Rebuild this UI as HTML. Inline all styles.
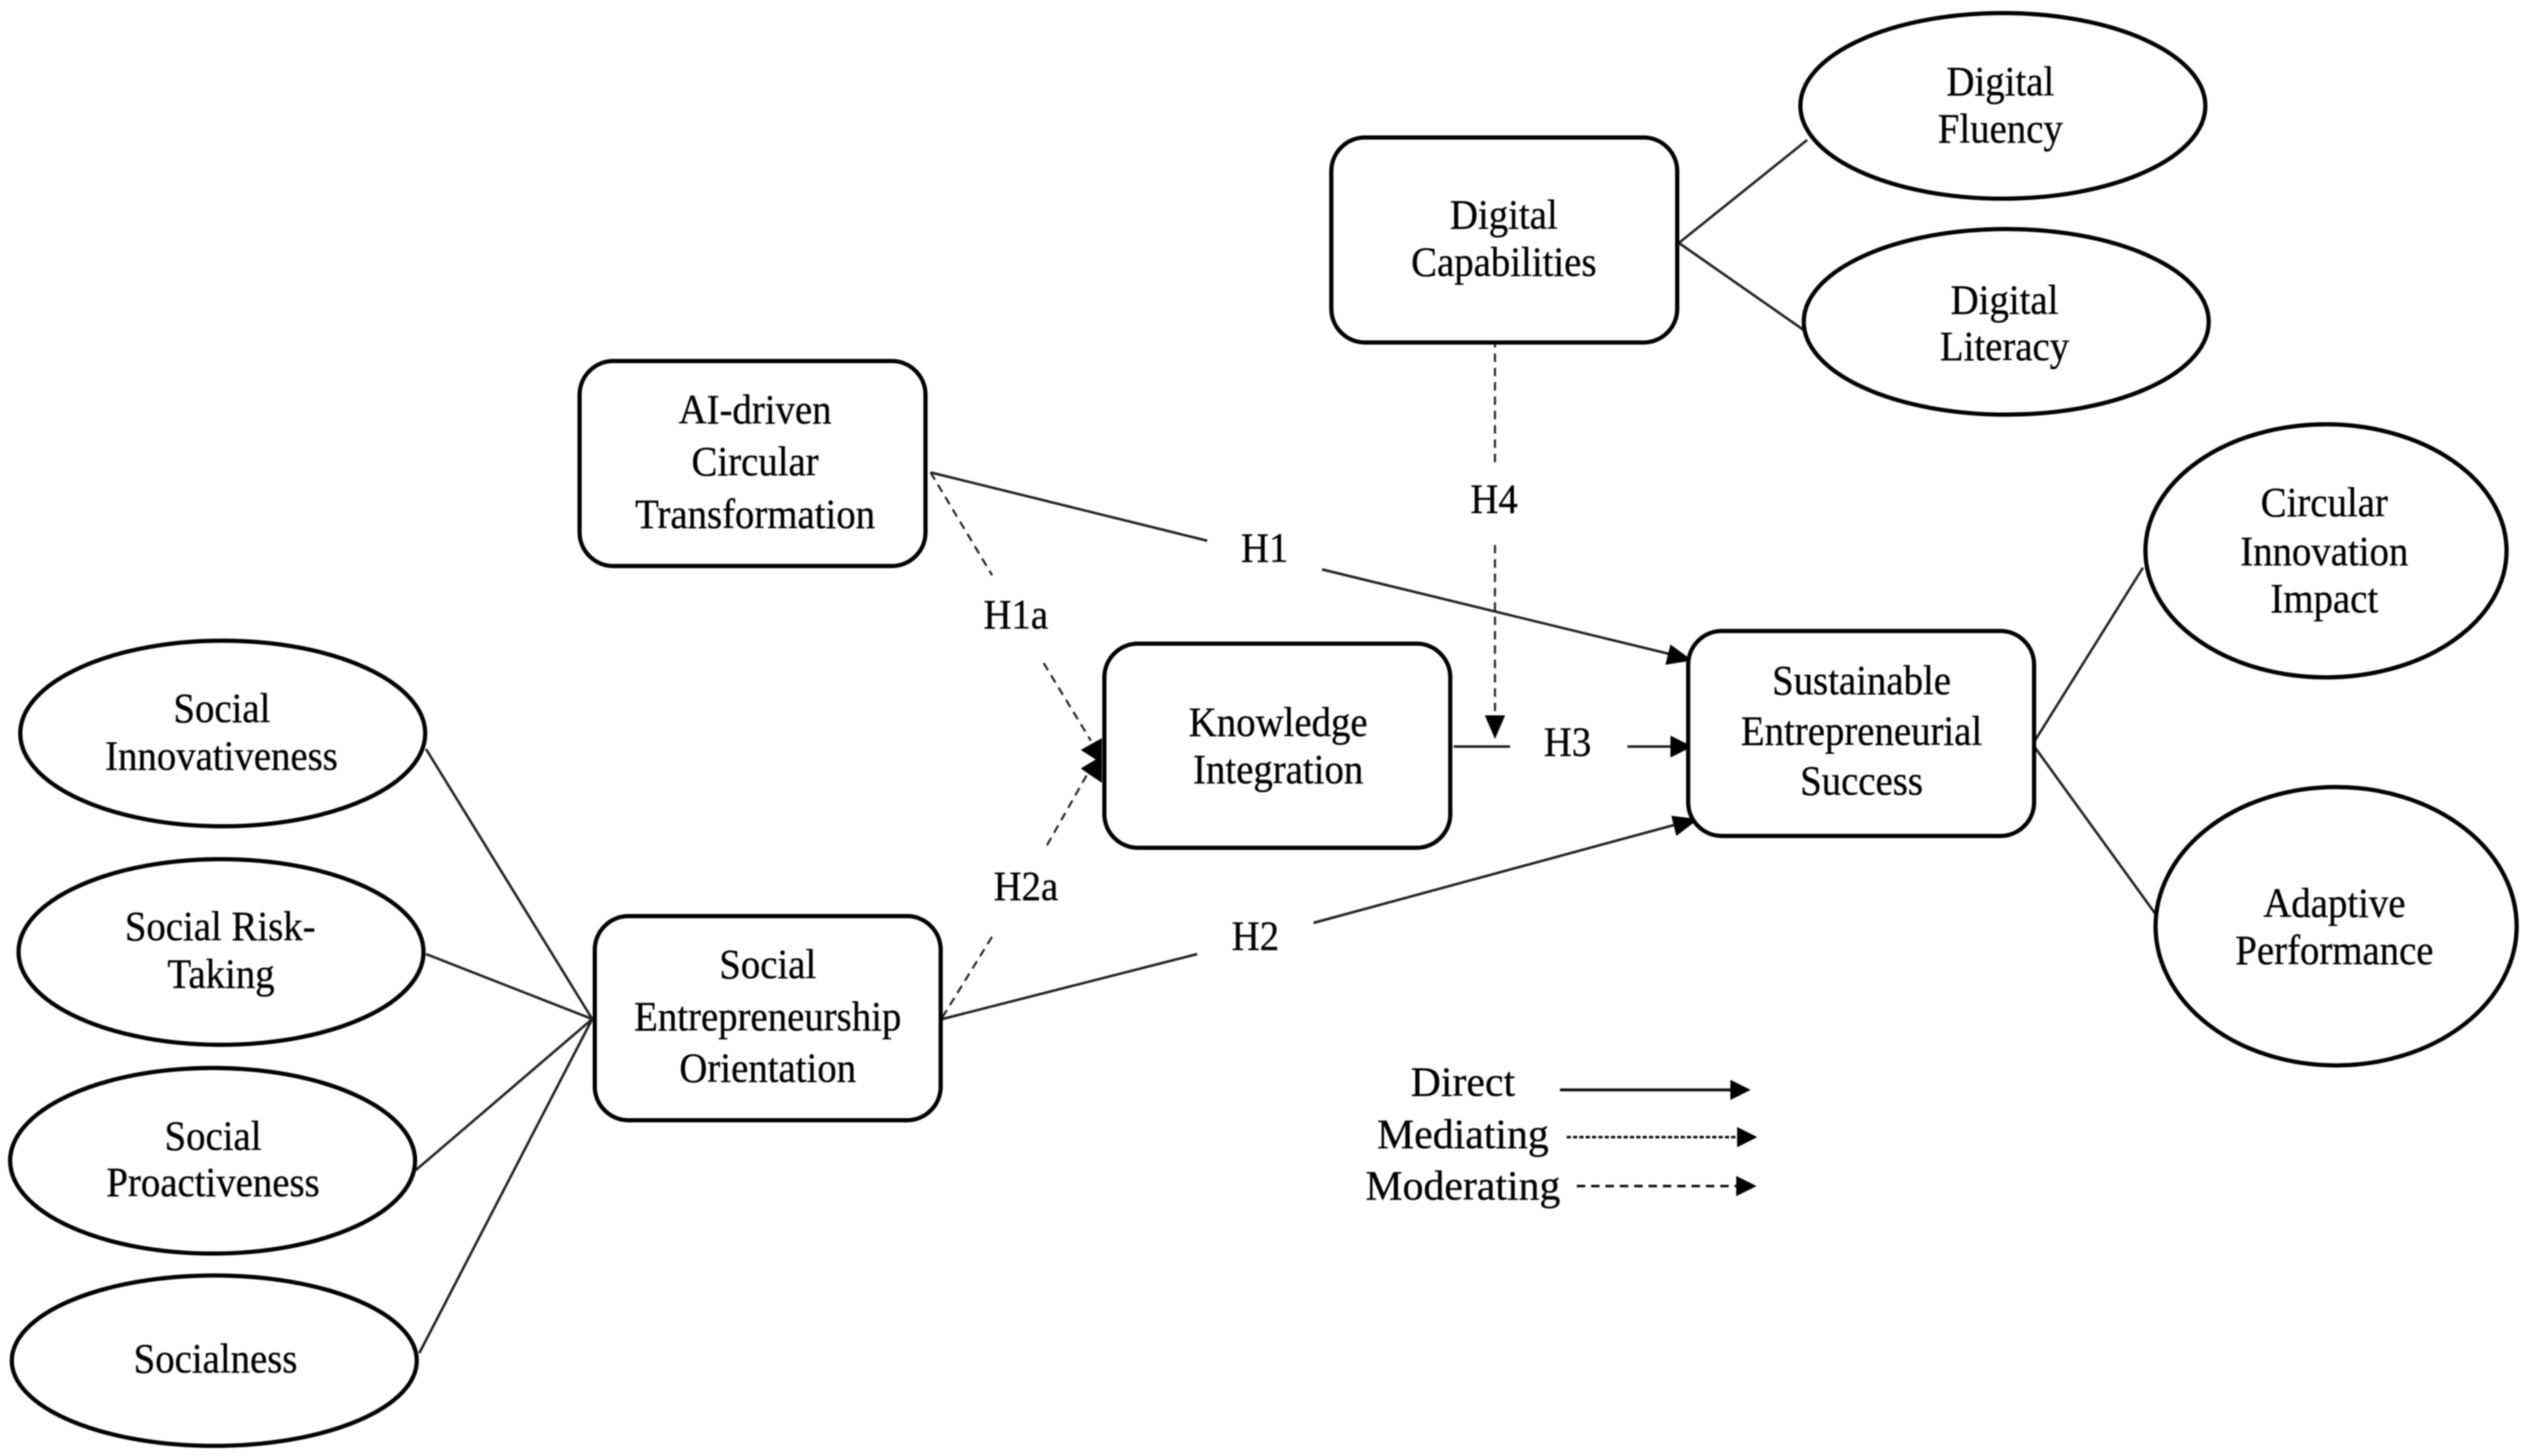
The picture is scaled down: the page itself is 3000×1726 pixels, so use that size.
<!DOCTYPE html>
<html lang="en">
<head>
<meta charset="utf-8">
<title>Conceptual model</title>
<style>
html,body{margin:0;padding:0;background:#fff;width:3000px;height:1726px;overflow:hidden}
svg{display:block;filter:blur(.8px)}
text{font-family:"Liberation Serif",serif;font-size:46px;fill:#000;stroke:#000;stroke-width:.35;text-anchor:middle}
.leg{font-size:49.5px}
.n{fill:#fff;stroke:#000;stroke-width:5}
.l{fill:none;stroke:#222;stroke-width:3}
.d{fill:none;stroke:#222;stroke-width:2.5;stroke-dasharray:10 7}
</style>
</head>
<body>
<svg xmlns="http://www.w3.org/2000/svg" width="3000" height="1726" viewBox="0 0 3000 1726">
<rect width="3000" height="1726" fill="#fff"/>

<!-- connectors -->
<path class="l" d="M505 888L702 1208M505 1131L702 1208M493 1387L702 1208M497 1604L702 1208"/>
<path class="l" d="M1990 288L2142 166M1990 288L2139 392"/>
<path class="l" d="M2412 878L2540 673M2412 886L2556 1085"/>
<path class="l" d="M1103 560L1431 641M1567 675L1982 776"/>
<path class="l" d="M1117 1208L1419 1131M1557 1094L1988 977"/>
<path class="l" d="M1723 885H1790M1929 885H1985"/>
<path class="d" d="M1103 560L1176 682M1237 786L1293 878"/>
<path class="d" d="M1117 1206L1178 1107M1241 1002L1296 905"/>
<path class="d" d="M1772 402V548M1772 646V850"/>

<!-- arrowheads -->
<g fill="#000">
<polygon points="2006,783 1974,788 1980,764"/>
<polygon points="2013,971 1987,991 1981,967"/>
<polygon points="2006,885 1980,872 1980,898"/>
<polygon points="1772,876 1760,848 1784,848"/>
<polygon points="1306,875 1281,889 1306,905"/>
<polygon points="1306,896 1281,911 1306,928"/>
</g>

<!-- ellipses -->
<ellipse class="n" cx="264" cy="869.5" rx="240" ry="110"/>
<ellipse class="n" cx="262" cy="1128.5" rx="240" ry="110"/>
<ellipse class="n" cx="252" cy="1376" rx="240" ry="110"/>
<ellipse class="n" cx="254" cy="1613" rx="240" ry="101"/>
<ellipse class="n" cx="2374" cy="125.5" rx="240" ry="110"/>
<ellipse class="n" cx="2378" cy="381.5" rx="240" ry="110"/>
<ellipse class="n" cx="2757" cy="653" rx="214" ry="150"/>
<ellipse class="n" cx="2769" cy="1098" rx="214" ry="165"/>

<!-- boxes -->
<rect class="n" x="689" y="428" width="410" height="243" rx="40" transform="translate(-2 0)"/>
<rect class="n" x="1309" y="763" width="410" height="242" rx="40"/>
<rect class="n" x="705" y="1086" width="410" height="242" rx="40"/>
<rect class="n" x="1578" y="163" width="410" height="243" rx="40"/>
<rect class="n" x="2001" y="748" width="410" height="243" rx="40"/>

<!-- node labels -->
<text transform="translate(263 856) scale(1 1.07)">Social</text>
<text transform="translate(262.5 912.5) scale(1 1.07)">Innovativeness</text>
<text transform="translate(261 1114.6) scale(1 1.07)">Social Risk-</text>
<text transform="translate(262 1171) scale(1 1.07)">Taking</text>
<text transform="translate(252.5 1363) scale(1 1.07)">Social</text>
<text transform="translate(252.5 1418) scale(1 1.07)">Proactiveness</text>
<text transform="translate(255.5 1627) scale(1 1.07)">Socialness</text>

<text transform="translate(910 1159.5) scale(1 1.07)">Social</text>
<text transform="translate(910 1221.7) scale(1 1.07)">Entrepreneurship</text>
<text transform="translate(910 1282.7) scale(1 1.07)">Orientation</text>

<text transform="translate(895 502) scale(1 1.07)">AI-driven</text>
<text transform="translate(895 563.7) scale(1 1.07)">Circular</text>
<text transform="translate(895 626) scale(1 1.07)">Transformation</text>

<text transform="translate(1515 872.5) scale(1 1.07)">Knowledge</text>
<text transform="translate(1515 928.5) scale(1 1.07)">Integration</text>

<text transform="translate(1782.5 271) scale(1 1.07)">Digital</text>
<text transform="translate(1782.5 327) scale(1 1.07)">Capabilities</text>

<text transform="translate(2371 113) scale(1 1.07)">Digital</text>
<text transform="translate(2371 169) scale(1 1.07)">Fluency</text>
<text transform="translate(2376 372) scale(1 1.07)">Digital</text>
<text transform="translate(2376 427) scale(1 1.07)">Literacy</text>

<text transform="translate(2755 612) scale(1 1.07)">Circular</text>
<text transform="translate(2755 670) scale(1 1.07)">Innovation</text>
<text transform="translate(2755 726) scale(1 1.07)">Impact</text>

<text transform="translate(2206.5 823) scale(1 1.07)">Sustainable</text>
<text transform="translate(2206.5 883) scale(1 1.07)">Entrepreneurial</text>
<text transform="translate(2206.5 942) scale(1 1.07)">Success</text>

<text transform="translate(2767 1087) scale(1 1.07)">Adaptive</text>
<text transform="translate(2767 1143) scale(1 1.07)">Performance</text>

<!-- hypothesis labels -->
<text transform="translate(1499 666) scale(1 1.07)">H1</text>
<text transform="translate(1204 745) scale(1 1.07)">H1a</text>
<text transform="translate(1216 1067) scale(1 1.07)">H2a</text>
<text transform="translate(1488 1126) scale(1 1.07)">H2</text>
<text transform="translate(1858 896) scale(1 1.07)">H3</text>
<text transform="translate(1771 608) scale(1 1.07)">H4</text>

<!-- legend -->
<text class="leg" x="1734" y="1299">Direct</text>
<text class="leg" x="1734" y="1361">Mediating</text>
<text class="leg" x="1734" y="1422">Moderating</text>
<path d="M1849 1292H2055" fill="none" stroke="#111" stroke-width="3.5"/>
<polygon points="2075,1292 2051,1280 2051,1304" fill="#000"/>
<path d="M1857 1348H2062" fill="none" stroke="#111" stroke-width="3" stroke-dasharray="5 2.5"/>
<polygon points="2083,1348 2059,1336 2059,1360" fill="#000"/>
<path d="M1869 1406H2060" fill="none" stroke="#111" stroke-width="3" stroke-dasharray="10 7"/>
<polygon points="2082,1406 2058,1394 2058,1418" fill="#000"/>
</svg>
</body>
</html>
